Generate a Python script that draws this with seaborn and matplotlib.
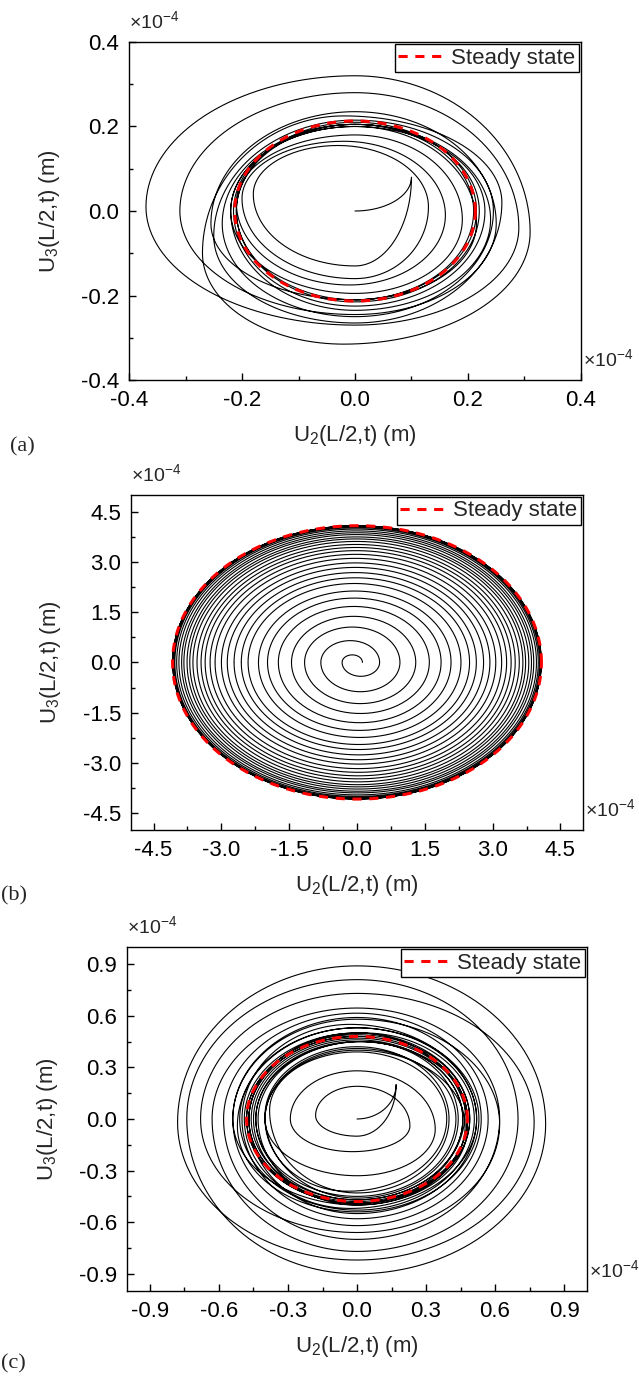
import numpy as np
import pandas as pd
import matplotlib
matplotlib.use("Agg")
import matplotlib.pyplot as plt
import seaborn as sns
from matplotlib.ticker import MultipleLocator, FormatStrFormatter

# turning points of the orbits, in order (units of 1e-4 m)
# even index = top/bottom point, odd index = left/right point
a_x = [0.0, 0.10, 0.0, -0.18, -0.03, 0.13, 0.0, -0.20, -0.02, 0.16, -0.01, -0.21, 0.0, 0.19, 0.0,
       -0.22, 0.0, 0.215, 0.0, -0.255, 0.0, 0.25, 0.0, -0.31, 0.0, 0.29, 0.0, -0.37, 0.0, 0.31,
       -0.02, -0.27, -0.02, 0.26, 0.0, -0.25, 0.0, 0.245, 0.0, -0.235, 0.0, 0.24, 0.0, -0.22, 0.0,
       0.23, 0.0, -0.215, 0.0, 0.22, 0.0, -0.21, 0.0, 0.215, 0.0, -0.21, 0.0, 0.21, 0.0]
a_y = [0.0, 0.08, -0.13, 0.04, 0.155, 0.01, -0.16, 0.03, 0.165, -0.01, -0.175, 0.02, 0.18, -0.02, -0.195,
       0.0, 0.20, -0.03, -0.21, -0.03, 0.235, -0.03, -0.245, 0.0, 0.28, -0.04, -0.27, 0.01, 0.32, -0.05,
       -0.315, -0.10, 0.225, 0.02, -0.265, -0.06, 0.215, 0.0, -0.25, -0.03, 0.205, -0.02, -0.235, 0.0, 0.20,
       0.0, -0.225, 0.0, 0.205, 0.0, -0.215, 0.0, 0.21, 0.0, -0.21, 0.0, 0.205, 0.0, -0.21]
a_steady = 0.213

# spiral (b): successive crossings of the U2 axis
b_right = [0.12, 0.50, 0.95, 1.30, 1.60, 1.86, 2.08, 2.30, 2.49, 2.64, 2.80, 2.94, 3.07, 3.20, 3.31,
           3.41, 3.50, 3.59, 3.67, 3.73, 3.80, 3.86, 3.91, 3.97, 4.01, 4.04, 4.06, 4.07, 4.075, 4.08]
b_left = [-0.33, -0.80, -1.16, -1.45, -1.74, -1.98, -2.18, -2.41, -2.56, -2.72, -2.87, -3.00, -3.14, -3.25, -3.36,
          -3.45, -3.54, -3.63, -3.70, -3.76, -3.83, -3.88, -3.94, -3.99, -4.03, -4.05, -4.065, -4.075, -4.08, -4.08]
b_steady = 4.08

c_x = [0.0, 0.17, 0.0, -0.18, 0.0, 0.23, -0.02, -0.29, 0.0, 0.34,
       0.0, -0.40, 0.0, 0.47, 0.0, -0.54, 0.0, 0.62, 0.0, -0.68,
       0.0, 0.77, 0.0, -0.78, 0.0, 0.82, 0.0, -0.74, 0.0, 0.70,
       0.0, -0.63, 0.0, 0.62, 0.0, -0.58, 0.0, 0.57, 0.0, -0.54,
       0.0, 0.54, 0.0, -0.50, -0.03, 0.52, 0.0, -0.47, 0.0, 0.48,
       0.0, -0.43, 0.02, 0.44, 0.0, -0.40, 0.0, 0.40, 0.0, -0.38,
       0.0, 0.39, -0.04, -0.40, 0.0, 0.43, 0.0, -0.44, 0.0, 0.47,
       0.0, -0.48, 0.03, 0.51, 0.0, -0.51, 0.0, 0.53, 0.0, -0.52,
       0.0, 0.52, -0.03, -0.49, 0.0, 0.49, 0.0, -0.45, 0.0, 0.46,
       0.0, -0.44, 0.02, 0.46, 0.0, -0.46, 0.0, 0.48, 0.0, -0.48,
       0.0, 0.49, 0.0, -0.47, 0.0, 0.48, 0.0, -0.47, 0.0]
c_y = [0.0, 0.20, -0.10, 0.02, 0.19, -0.04, -0.19, 0.0, 0.28, -0.06,
       -0.33, 0.0, 0.40, -0.04, -0.50, 0.0, 0.58, -0.03, -0.66, 0.0,
       0.73, -0.02, -0.82, -0.02, 0.89, -0.03, -0.90, 0.0, 0.81, 0.0,
       -0.77, 0.0, 0.645, 0.0, -0.70, 0.0, 0.615, 0.0, -0.62, 0.0,
       0.59, 0.0, -0.58, 0.0, 0.55, 0.0, -0.55, 0.0, 0.50, -0.05,
       -0.50, 0.0, 0.45, 0.0, -0.46, 0.02, 0.42, 0.0, -0.43, 0.05,
       0.39, 0.0, -0.42, 0.0, 0.41, 0.0, -0.45, 0.0, 0.45, 0.04,
       -0.49, 0.0, 0.50, 0.0, -0.53, 0.0, 0.53, 0.0, -0.54, -0.04,
       0.53, 0.0, -0.52, 0.0, 0.50, 0.0, -0.49, 0.0, 0.46, 0.0,
       -0.47, 0.0, 0.45, 0.0, -0.47, 0.0, 0.47, 0.0, -0.49, 0.0,
       0.49, 0.0, -0.49, 0.0, 0.48, 0.0, -0.48, 0.0, 0.48]
c_steady = 0.48

panels = ["(a)", "(b)", "(c)"]
limits = [0.4, 5.0, 1.0]
major_step = [0.2, 1.5, 0.3]


def orbit(xs, ys, n=40):
    # join turning points by quarter ellipses (tangent vertical at sides, horizontal at top/bottom)
    px, py = [xs[0]], [ys[0]]
    phi = np.linspace(0, np.pi / 2, n)[1:]
    for i in range(len(xs) - 1):
        x1, y1, x2, y2 = xs[i], ys[i], xs[i + 1], ys[i + 1]
        if i % 2 == 0:
            px += list(x1 + (x2 - x1) * np.sin(phi))
            py += list(y2 + (y1 - y2) * np.cos(phi))
        else:
            px += list(x2 + (x1 - x2) * np.cos(phi))
            py += list(y1 + (y2 - y1) * np.sin(phi))
    return pd.DataFrame({"u2": px, "u3": py})


def spiral(right, left, n=80):
    px, py = [], []
    th = np.linspace(0, np.pi, n)
    for k in range(len(right)):
        r0, l0 = right[k], left[k]
        cx, r = (r0 + l0) / 2, (r0 - l0) / 2
        px += list(cx + r * np.cos(th)); py += list(r * np.sin(th))
        if k + 1 < len(right):
            r1 = right[k + 1]
            cx, r = (l0 + r1) / 2, (r1 - l0) / 2
            px += list(cx + r * np.cos(th + np.pi)); py += list(r * np.sin(th + np.pi))
    return pd.DataFrame({"u2": px, "u3": py})


def circle(rad, n=400):
    th = np.linspace(0, 2 * np.pi, n)
    return pd.DataFrame({"u2": rad * np.cos(th), "u3": rad * np.sin(th)})


sns.set_theme(style="ticks")
plt.rcParams["font.family"] = ["Liberation Sans", "DejaVu Sans"]
plt.rcParams["mathtext.fontset"] = "custom"
plt.rcParams["mathtext.rm"] = "Liberation Sans"
plt.rcParams["mathtext.it"] = "Liberation Sans:italic"
plt.rcParams["axes.unicode_minus"] = False

fs = 16
fig = plt.figure(figsize=(6.39, 13.8), dpi=100)
boxes = [[0.2019, 0.7246, 0.7073, 0.2450],
         [0.2050, 0.3986, 0.7074, 0.2428],
         [0.1987, 0.0645, 0.7200, 0.2493]]
orbits = [orbit(a_x, a_y), spiral(b_right, b_left), orbit(c_x, c_y)]
steady = [a_steady, b_steady, c_steady]
tag_y = [0.676, 0.351, 0.012]
tag_x = [0.015, 0.002, 0.002]

for i in range(3):
    ax = fig.add_axes(boxes[i])
    sns.lineplot(data=orbits[i], x="u2", y="u3", sort=False, estimator=None,
                 color="black", lw=0.8, ax=ax)
    sns.lineplot(data=circle(steady[i]), x="u2", y="u3", sort=False, estimator=None,
                 color="red", lw=2.2, dashes=False, ax=ax, label="Steady state")
    ax.lines[-1].set_dashes([3, 2.5])
    lim = limits[i]
    ax.set_xlim(-lim, lim)
    ax.set_ylim(-lim, lim)
    ax.xaxis.set_major_locator(MultipleLocator(major_step[i]))
    ax.yaxis.set_major_locator(MultipleLocator(major_step[i]))
    ax.xaxis.set_minor_locator(MultipleLocator(major_step[i] / 2))
    ax.yaxis.set_minor_locator(MultipleLocator(major_step[i] / 2))
    ax.xaxis.set_major_formatter(FormatStrFormatter("%.1f"))
    ax.yaxis.set_major_formatter(FormatStrFormatter("%.1f"))
    ax.tick_params(which="both", direction="in", top=False, right=False, labelsize=fs,
                   colors="black", width=1)
    ax.tick_params(which="major", length=5, pad=7)
    ax.tick_params(which="minor", length=3)
    for s in ax.spines.values():
        s.set_color("black")
        s.set_linewidth(1)
    ax.set_xlabel("U$_2$(L/2,t) (m)", fontsize=fs, labelpad=9)
    ax.set_ylabel("U$_3$(L/2,t) (m)", fontsize=fs, labelpad=14)
    ax.text(0.0, 1.03, "×10$^{-4}$", transform=ax.transAxes, fontsize=14, ha="left", va="bottom")
    ax.text(1.004, 0.03, "×10$^{-4}$", transform=ax.transAxes, fontsize=14, ha="left", va="bottom")
    leg = ax.legend(loc="upper right", fontsize=fs, frameon=True, fancybox=False, framealpha=1,
                    edgecolor="black", borderaxespad=0.1, borderpad=0.15, handlelength=2.0,
                    handletextpad=0.4)
    leg.get_frame().set_linewidth(1)
    fig.text(tag_x[i], tag_y[i], panels[i], fontsize=fs, family="Liberation Serif", va="center")

fig.savefig("out.png", dpi=100)
